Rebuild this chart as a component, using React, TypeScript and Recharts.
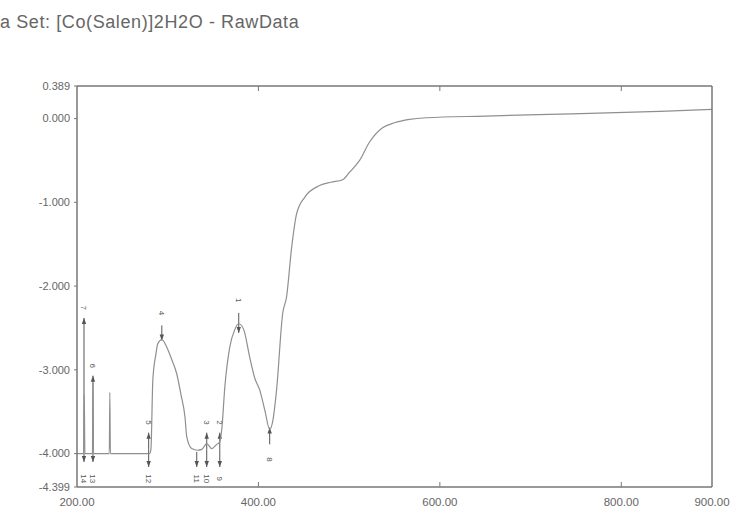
import { ComposedChart, Line, Scatter, XAxis, YAxis, ReferenceLine } from 'recharts';

// wavelength (nm) and absorbance
const wavelengths = [
  200, 207.4, 208, 208.7, 217, 217.6, 218.2, 235.6, 236.2, 236.8,
  275, 280, 281.5, 283.6, 287, 289, 293.5, 299, 304.5, 310,
  314.5, 319, 321, 326.5, 333, 337.6, 343, 348.6, 354, 357.4,
  359.6, 363, 368.4, 373.9, 378.3, 383.8, 390.4, 396, 401.4, 407,
  412.4, 416, 420, 426.7, 431, 436.6, 442, 451, 467.4, 480,
  492.8, 500.5, 511.5, 522.5, 536.8, 550, 566.5, 585, 650, 720,
  794, 850, 900,
];
const absorbance = [
  -4.0, -4.0, -3.3, -4.0, -4.0, -3.15, -4.0, -4.0, -3.27, -4.0,
  -4.0, -4.0, -3.95, -3.12, -2.81, -2.69, -2.64, -2.73, -2.88, -3.05,
  -3.29, -3.56, -3.8, -3.94, -3.96, -3.95, -3.88, -3.94, -3.89, -3.86,
  -3.71, -3.2, -2.73, -2.52, -2.45, -2.52, -2.85, -3.1, -3.24, -3.48,
  -3.71, -3.6, -3.24, -2.33, -2.13, -1.54, -1.14, -0.94, -0.8, -0.76,
  -0.73, -0.64, -0.5, -0.28, -0.11, -0.05, -0.01, 0.01, 0.03, 0.05,
  0.07, 0.09, 0.11,
];

// peak-pick markers
const markerLabels = ['7', '6', '5', '4', '3', '2', '1', '8', '14', '13', '12', '11', '10', '9'];
const markerX = [207.7, 217.6, 279, 293.5, 343, 357.4, 378.3, 412.4, 207.7, 217.6, 279, 332, 343, 357.4];
const markerTop = [-2.38, -3.07, -3.75, -2.47, -3.75, -3.75, -2.32, -3.69, -3.9, -3.9, -3.95, -3.98, -3.95, -3.95];
const markerBottom = [-3.9, -3.9, -3.95, -2.65, -3.95, -3.95, -2.56, -3.89, -4.1, -4.1, -4.16, -4.16, -4.16, -4.16];
const markerHeads = ['up', 'up', 'up', 'down', 'up', 'up', 'down', 'up', 'down', 'down', 'down', 'down', 'down', 'down'];
const markerLabelY = [-2.26, -2.95, -3.63, -2.32, -3.63, -3.63, -2.17, -4.07, -4.3, -4.3, -4.3, -4.3, -4.3, -4.3];

const yTicks = [0.389, 0, -1, -2, -3, -4, -4.399];
const xTicks = [200, 400, 600, 800, 900];

const data = wavelengths.map((x, i) => ({ x, abs: absorbance[i] }));
const labelData = markerLabels.map((label, i) => ({ x: markerX[i], ly: markerLabelY[i], label }));

const AXIS = '#777';
const TEXT = '#666';
const FONT = '"Liberation Sans", Arial, sans-serif';

const Arrow = (props: any) => {
  const { x1, y1, x2, y2, head } = props;
  const top = Math.min(y1, y2);
  const bot = Math.max(y1, y2);
  return (
    <g>
      <line x1={x1} y1={top} x2={x2} y2={bot} stroke="#555" strokeWidth={1} />
      {head === 'up' ? (
        <path d={`M${x1},${top} l-2.2,6 l4.4,0 Z`} fill="#555" />
      ) : (
        <path d={`M${x1},${bot} l-2.2,-6 l4.4,0 Z`} fill="#555" />
      )}
    </g>
  );
};

const MarkerLabel = (props: any) => {
  const { cx, cy, payload } = props;
  if (cx == null || cy == null) return null;
  return (
    <text
      x={cx}
      y={cy}
      transform={`rotate(90, ${cx}, ${cy})`}
      textAnchor="middle"
      dominantBaseline="central"
      fontSize={8}
      fontFamily={FONT}
      fill="#555"
    >
      {payload.label}
    </text>
  );
};

const noTick = () => <g />;

const App = () => {
  return (
    <div style={{ position: 'absolute', left: 0, top: 0, width: 732, height: 513, background: '#fff' }}>
      <div
        style={{
          position: 'absolute',
          left: 0,
          top: 12,
          fontFamily: FONT,
          fontSize: 18,
          letterSpacing: 0.6,
          color: TEXT,
          whiteSpace: 'nowrap',
        }}
      >
        a Set: [Co(Salen)]2H2O - RawData
      </div>
      <ComposedChart width={732} height={513} data={data} margin={{ top: 86, right: 20, bottom: 0, left: 0 }}>
        <XAxis
          dataKey="x"
          type="number"
          domain={[200, 900]}
          ticks={xTicks}
          tickFormatter={(v: number) => v.toFixed(2)}
          height={26}
          axisLine={{ stroke: AXIS, strokeWidth: 1.5 }}
          tickLine={false}
          tickSize={2}
          tickMargin={9}
          tick={{ fill: TEXT, fontSize: 11.5, fontFamily: FONT }}
          allowDataOverflow
        />
        <XAxis
          xAxisId="bin"
          dataKey="x"
          type="number"
          domain={[200, 900]}
          ticks={[400, 600, 800]}
          mirror
          axisLine={false}
          tickLine={{ stroke: AXIS }}
          tickSize={5}
          tick={noTick}
        />
        <XAxis
          xAxisId="top"
          orientation="top"
          dataKey="x"
          type="number"
          domain={[200, 900]}
          ticks={[400, 600, 800]}
          mirror
          axisLine={{ stroke: AXIS, strokeWidth: 1.5 }}
          tickLine={{ stroke: AXIS }}
          tickSize={5}
          tick={noTick}
        />
        <YAxis
          type="number"
          domain={[-4.399, 0.389]}
          ticks={yTicks}
          tickFormatter={(v: number) => v.toFixed(3)}
          width={77}
          axisLine={{ stroke: AXIS, strokeWidth: 1.5 }}
          tickLine={{ stroke: AXIS }}
          tickSize={3}
          tickMargin={4}
          tick={{ fill: TEXT, fontSize: 11, fontFamily: FONT }}
          allowDataOverflow
          interval={0}
        />
        <YAxis
          yAxisId="right"
          orientation="right"
          type="number"
          domain={[-4.399, 0.389]}
          ticks={[0, -1, -2, -3, -4]}
          mirror
          axisLine={{ stroke: AXIS, strokeWidth: 1.5 }}
          tickLine={{ stroke: AXIS }}
          tickSize={5}
          tick={noTick}
        />
        {markerLabels.map((l, i) => (
          <ReferenceLine
            key={`m-${l}`}
            segment={[
              { x: markerX[i], y: markerTop[i] },
              { x: markerX[i], y: markerBottom[i] },
            ]}
            shape={(p: any) => <Arrow {...p} head={markerHeads[i]} />}
          />
        ))}
        <Line
          type="monotone"
          dataKey="abs"
          stroke="#8f8f8f"
          strokeWidth={1.2}
          dot={false}
          isAnimationActive={false}
        />
        <Scatter
          data={labelData}
          dataKey="ly"
          shape={(p: any) => <MarkerLabel {...p} />}
          isAnimationActive={false}
        />
      </ComposedChart>
    </div>
  );
};

export default App;
